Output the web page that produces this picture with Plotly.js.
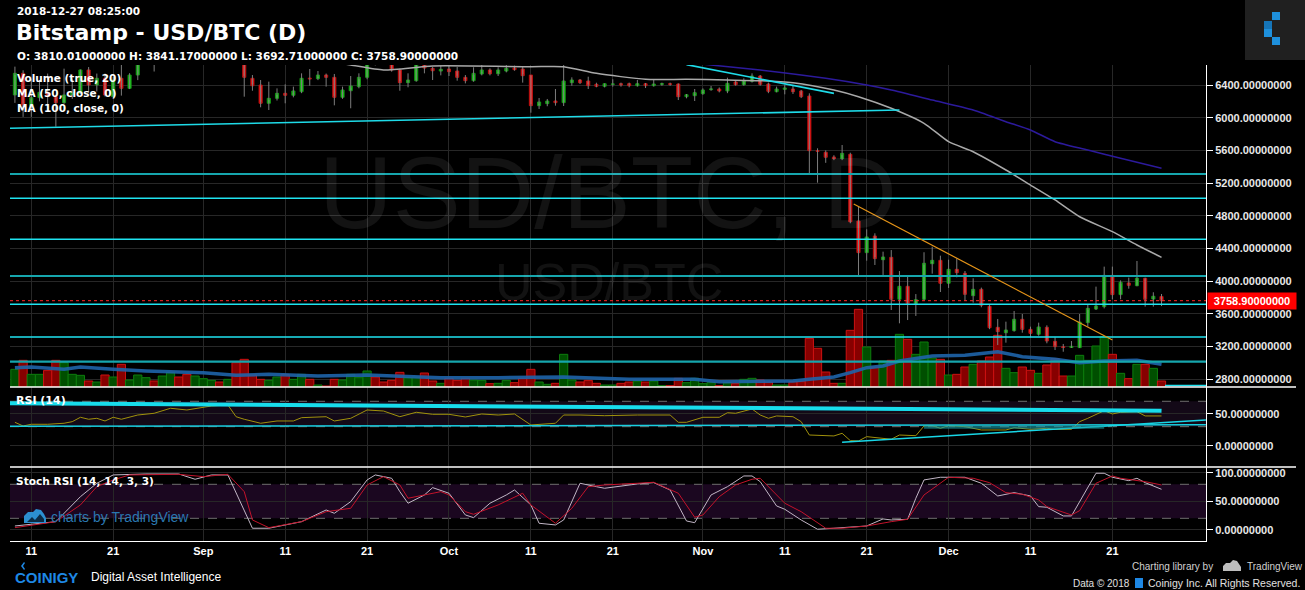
<!DOCTYPE html>
<html><head><meta charset="utf-8">
<script src="https://cdn.plot.ly/plotly-3.0.1.min.js"></script>
<style>html,body{margin:0;padding:0;background:#000;overflow:hidden}#chart{width:1305px;height:590px}</style>
</head><body><div id="chart"></div>
<script>
// ---------------- DATA (daily candles from 2018-08-09 to 2018-12-27) ----------------
const firstDay = '2018-08-09';
const openP = [
6278,6543,6140,6245,6310,6257,6184,6278,6298,6584,6400,6482,6257,6482,6359,6522,6690,6730,6700,6910,7080,7030,6980,
7010,7190,7280,7260,7370,6700,6482,6400,6176,6237,6298,6274,6318,6484,6478,6522,6494,6249,6330,6380,6494,6760,6710,6700,6584,6429,6453,6690,6604,6571,
6596,6571,6494,6453,6535,6584,6538,6571,6608,6596,6522,6147,6172,6204,6184,6429,6461,6449,6408,6384,6408,6416,6416,6392,6416,6392,6408,6416,6412,6257,6269,
6294,6343,6351,6327,6437,6404,6445,6510,6412,6318,6347,6351,6327,6265,5596,5576,5518,5498,5551,4735,4347,4551,4261,4290,3776,3935,3723,3776,4212,4253,
3972,4143,4094,3820,3898,3690,3433,3367,3392,3531,3408,3348,3433,3261,3196,3186,3184,3490,3657,3686,4069,3833,3976,3943,4033,3780,3810.01];
const highP = [
6625,6580,6470,6460,6540,6280,6600,6480,6590,6620,6540,6540,6500,6890,6545,6730,6790,6760,6930,7130,7140,7060,7070,
7240,7340,7340,7400,7400,6720,6522,6461,6441,6359,6408,6380,6543,6596,6571,6540,6535,6380,6510,6543,6780,6800,6780,6720,6600,6543,6700,6790,6620,6637,
6645,6620,6522,6617,6645,6604,6617,6645,6637,6625,6522,6241,6229,6351,6900,6494,6473,6502,6428,6420,6470,6429,6429,6461,6425,6461,6429,6429,6420,6290,6351,
6359,6388,6370,6490,6461,6482,6543,6522,6429,6380,6400,6392,6340,6298,5625,5600,5540,5665,5571,4910,4633,4584,4359,4379,4122,4073,3840,4352,4420,4310,
4261,4278,4122,4033,3919,3706,3535,3502,3633,3596,3441,3490,3457,3310,3229,3265,3596,3706,3931,4176,4176,4008,4041,4245,4040,3862,3841.17];
const lowP = [
6181,6010,6010,6200,6150,5889,6170,6230,6290,6310,6320,6260,6250,6270,6350,6460,6660,6565,6660,6880,6980,6800,6900,
7000,7150,7200,7250,6680,6257,6330,6127,6094,6210,6176,6249,6300,6391,6460,6380,6151,6230,6115,6360,6470,6640,6660,6563,6330,6372,6440,6543,6461,6518,
6510,6453,6420,6440,6518,6518,6510,6555,6575,6429,6061,6106,6140,6147,6143,6391,6412,6351,6372,6370,6380,6380,6372,6380,6363,6380,6390,6390,6216,6237,6204,
6280,6330,6310,6300,6392,6390,6430,6392,6300,6310,6286,6290,6240,5319,5204,5447,5480,5480,4707,4065,4249,4196,4074,3645,3482,3522,3572,3760,4090,3865,
3915,4045,3760,3735,3678,3410,3216,3245,3380,3367,3310,3330,3237,3155,3134,3180,3180,3441,3645,3665,3776,3776,3906,3935,3686,3686,3692.71];
const closeP = [
6543,6155,6245,6310,6260,6184,6278,6310,6584,6400,6482,6278,6461,6359,6522,6690,6730,6700,6910,7080,7030,6980,7010,
7190,7280,7260,7370,6700,6494,6391,6176,6237,6298,6274,6327,6482,6476,6522,6494,6249,6339,6388,6494,6760,6710,6700,6584,6429,6461,6690,6608,6575,6592,
6563,6494,6453,6543,6584,6538,6584,6604,6588,6514,6147,6192,6204,6184,6449,6461,6429,6392,6384,6416,6412,6400,6392,6416,6392,6412,6416,6408,6257,6281,6306,
6339,6351,6327,6420,6404,6453,6510,6408,6323,6351,6363,6318,6257,5596,5588,5515,5498,5563,4726,4347,4539,4274,4294,3776,3935,3727,3771,4217,4253,3972,
4143,4102,3837,3898,3702,3428,3380,3400,3531,3408,3359,3437,3265,3196,3186,3200,3498,3665,3694,4069,3833,3984,3947,4033,3776,3813,3758.90];
const volumeBTC = [
5300,8000,3800,3800,5000,8000,7300,3800,3500,1800,1500,3600,3000,6800,2100,3600,2800,1800,3300,4400,3000,3800,3300,
2500,2000,1500,2300,7300,8300,3600,2300,2000,3000,3800,2300,3800,2300,600,300,2300,2100,3800,2800,4800,3000,1500,2000,4400,2800,3000,4200,1800,1100,
2600,2000,2600,2100,2000,1000,1100,2000,1300,2600,5300,1500,800,1100,9800,2100,1500,2000,1100,600,600,1100,1500,1800,1500,1800,400,400,2600,1300,2600,
1000,1300,400,1300,1000,2300,2600,2100,1500,600,600,1600,1600,14600,11600,4500,1100,1100,17000,23300,12000,6000,7800,8000,15800,14300,9800,13500,8700,8300,
3600,3800,6000,6800,7800,9000,15500,5600,4300,6000,5000,4100,6600,8500,3300,3300,9500,8000,12300,15100,9800,4100,2500,6800,6800,5600,1800];

// Indicator lines
const volMaDates = ['2018-08-09','2018-08-11','2018-08-15','2018-08-17','2018-08-21','2018-08-25','2018-09-01','2018-09-05','2018-09-09','2018-09-15','2018-09-21','2018-09-30','2018-10-07','2018-10-15','2018-10-23','2018-10-31','2018-11-03','2018-11-08','2018-11-12','2018-11-14','2018-11-17','2018-11-19','2018-11-21','2018-11-23','2018-11-25','2018-11-29','2018-12-03','2018-12-07','2018-12-10','2018-12-14','2018-12-17','2018-12-20','2018-12-24','2018-12-27'];
const volMaVals = [5800,6000,5300,6000,5300,4800,4300,3500,3800,3300,3600,2800,2800,3000,2300,2300,1600,1600,1800,2300,3000,4300,5800,6300,7800,9300,9500,10600,9100,8300,7300,7800,8000,6800];

const ma50Dates = ['2018-09-12','2018-09-19','2018-09-23','2018-09-29','2018-10-11','2018-10-15','2018-10-19','2018-10-25','2018-10-30','2018-11-04','2018-11-08','2018-11-12','2018-11-17','2018-11-20','2018-11-24','2018-11-28','2018-12-01','2018-12-04','2018-12-08','2018-12-11','2018-12-14','2018-12-17','2018-12-21','2018-12-24','2018-12-27'];
const ma50Vals = [6760,6645,6584,6633,6624,6624,6543,6470,6470,6461,6453,6428,6339,6257,6115,5931,5706,5583,5359,5175,4992,4787,4604,4441,4290];

const ma100Dates = ['2018-10-26','2018-11-02','2018-11-08','2018-11-16','2018-11-21','2018-11-24','2018-11-29','2018-12-04','2018-12-08','2018-12-11','2018-12-14','2018-12-18','2018-12-22','2018-12-27'];
const ma100Vals = [6730,6645,6584,6482,6400,6339,6216,6094,5951,5849,5706,5604,5502,5380];

const rsiDates = ['2018-08-09','2018-08-10','2018-08-11','2018-08-13','2018-08-15','2018-08-16','2018-08-17','2018-08-18','2018-08-19','2018-08-20','2018-08-21','2018-08-22','2018-08-24','2018-08-26','2018-08-28','2018-08-30','2018-09-02','2018-09-04','2018-09-05','2018-09-06','2018-09-08','2018-09-10','2018-09-12','2018-09-13','2018-09-16','2018-09-17','2018-09-19','2018-09-21','2018-09-23','2018-09-25','2018-09-27','2018-09-29','2018-10-01','2018-10-03','2018-10-05','2018-10-07','2018-10-09','2018-10-11','2018-10-14','2018-10-15','2018-10-17','2018-10-20','2018-10-24','2018-10-28','2018-10-29','2018-10-30','2018-11-01','2018-11-03','2018-11-04','2018-11-05','2018-11-07','2018-11-08','2018-11-09','2018-11-10','2018-11-12','2018-11-13','2018-11-14','2018-11-17','2018-11-18','2018-11-19','2018-11-20','2018-11-21','2018-11-24','2018-11-25','2018-11-27','2018-11-28','2018-11-29','2018-11-30','2018-12-01','2018-12-03','2018-12-05','2018-12-08','2018-12-09','2018-12-11','2018-12-13','2018-12-14','2018-12-16','2018-12-17','2018-12-18','2018-12-20','2018-12-21','2018-12-22','2018-12-24','2018-12-25','2018-12-27'];
const rsiVals = [36.9,31.1,33.8,33.8,35.4,37.9,44.8,41.7,43.2,39.0,44.8,41.7,48.4,51.1,59.0,56.3,62.6,64.2,45.7,41.7,35.4,39.0,39.0,44.2,45.7,39.0,43.2,56.3,54.7,45.7,52.7,49.5,49.5,45.3,50.0,48.4,50.0,32.7,35.4,48.4,48.4,47.3,48.4,48.4,36.9,36.9,44.8,44.8,52.0,51.1,57.9,48.4,43.2,46.9,45.7,37.9,16.9,15.4,19.6,8.0,7.5,14.3,10.2,16.9,15.8,31.1,31.6,27.5,31.6,30.0,24.8,24.8,28.4,25.9,27.5,25.9,25.9,37.9,43.2,55.2,50.0,52.7,53.6,46.9,46.9];

const stochKDates = ['2018-08-09','2018-08-14','2018-08-17','2018-08-19','2018-08-21','2018-08-25','2018-08-29','2018-08-31','2018-09-02','2018-09-04','2018-09-07','2018-09-09','2018-09-13','2018-09-16','2018-09-17','2018-09-19','2018-09-21','2018-09-22','2018-09-24','2018-09-25','2018-09-26','2018-09-28','2018-09-29','2018-10-01','2018-10-03','2018-10-04','2018-10-06','2018-10-08','2018-10-09','2018-10-11','2018-10-12','2018-10-14','2018-10-15','2018-10-17','2018-10-19','2018-10-20','2018-10-24','2018-10-26','2018-10-28','2018-10-30','2018-10-31','2018-11-02','2018-11-04','2018-11-05','2018-11-06','2018-11-07','2018-11-08','2018-11-10','2018-11-11','2018-11-13','2018-11-15','2018-11-17','2018-11-21','2018-11-23','2018-11-24','2018-11-26','2018-11-27','2018-11-28','2018-11-30','2018-12-03','2018-12-05','2018-12-07','2018-12-09','2018-12-11','2018-12-12','2018-12-13','2018-12-15','2018-12-16','2018-12-19','2018-12-20','2018-12-21','2018-12-23','2018-12-24','2018-12-25','2018-12-27'];
const stochKVals = [6.5,14.1,58.2,81.8,96.5,98.2,98.2,88.9,96.5,96.5,2.5,2.5,14.1,34.7,28.9,49.4,87.7,96.5,90.6,67,46.6,61.2,74.1,64.2,25.9,21.2,46.6,61.2,70,43.6,11.3,8.3,17.1,81.8,75.8,73,80.6,82.9,70,15.3,12.3,61.2,75.8,84.7,94.7,94.7,84.7,41.8,36,17.1,0.7,2.5,6.5,18.9,17.1,18.3,55.4,87.7,92.4,92.4,81.8,59.4,65.3,59.4,40.6,39.5,24.2,24.2,99.5,99.5,92.4,86.4,90.6,82.9,71.2];

const stochDDates = ['2018-08-09','2018-08-14','2018-08-17','2018-08-19','2018-08-21','2018-08-23','2018-08-29','2018-09-01','2018-09-04','2018-09-06','2018-09-07','2018-09-09','2018-09-13','2018-09-16','2018-09-19','2018-09-21','2018-09-23','2018-09-25','2018-09-26','2018-09-30','2018-10-01','2018-10-03','2018-10-04','2018-10-07','2018-10-10','2018-10-11','2018-10-14','2018-10-16','2018-10-18','2018-10-20','2018-10-24','2018-10-26','2018-10-29','2018-10-31','2018-11-01','2018-11-03','2018-11-05','2018-11-07','2018-11-08','2018-11-11','2018-11-13','2018-11-16','2018-11-18','2018-11-21','2018-11-24','2018-11-26','2018-11-28','2018-12-01','2018-12-04','2018-12-06','2018-12-08','2018-12-10','2018-12-12','2018-12-13','2018-12-16','2018-12-17','2018-12-19','2018-12-21','2018-12-22','2018-12-24','2018-12-25','2018-12-27'];
const stochDVals = [3.5,14.1,43.6,75.8,87.7,96.5,97.6,93.5,97.6,67,17.1,3.5,14.1,31.7,37.7,78.8,93.5,78.8,55.4,67,61.2,31.7,27.1,43.6,64.2,43.6,11.3,37.7,75.8,78.8,81.8,83.6,64.2,21.9,25.9,58.2,78.8,88.9,90.6,46.6,31.7,2.5,2.5,6.5,14.1,18.3,61.2,92.4,90.6,82.9,65.3,62.4,52.4,40.6,25.9,33.5,81.8,94.7,90.6,86.4,84.7,78.8];

// Drawings (user trendlines / levels)
const levelPrices = [5310, 5012, 4511, 4061, 3715, 3314, 3012];
const levelKinds  = ['teal','cyan','cyan','teal','cyan','cyan','teal'];
const longTrend = {d:['2018-08-08 09:00','2018-11-25'], p:[5870, 6094]};
const shortTrend = {d:['2018-10-30','2018-11-17'], p:[6650, 6298]};
const orangeTrend = {d:['2018-11-19 10:00','2018-12-21'], p:[4943, 3277]};
const rsiTop = {d:['2018-08-08 09:00','2018-12-27'], v:[66.9, 55.2]};
const rsiFlat = {d:['2018-08-08 09:00','2019-01-01 10:00'], v:[30.6, 33.0]};
const rsiRise = {d:['2018-11-18','2019-01-01 10:00'], v:[5.4, 40.6]};
const rsiSeg = {d:['2018-11-28','2018-12-20'], v:[29.2, 29.2]};
const lastPrice = 3758.90;

const xTickVals = ['2018-08-11','2018-08-21','2018-09-01','2018-09-11','2018-09-21','2018-10-01','2018-10-11','2018-10-21','2018-11-01','2018-11-11','2018-11-21','2018-12-01','2018-12-11','2018-12-21'];
const xTickText = ['11','21','Sep','11','21','Oct','11','21','Nov','11','21','Dec','11','21'];
const priceTicks = [2800,3200,3600,4000,4400,4800,5200,5600,6000,6400];

// ---------------- BUILD ----------------
const N = openP.length;
const days = [];
{ const d0 = new Date(firstDay + 'T00:00:00Z');
  for (let i = 0; i < N; i++) { const d = new Date(d0.getTime() + i*86400000); days.push(d.toISOString().slice(0,10)); } }

const W = 1305, H = 590, ML = 10, MR = 99, MT = 65, MB = 49;
const PW = W - ML - MR, PH = H - MT - MB;
const px = x => (x - ML) / PW;
const py = y => (H - MB - y) / PH;

const up = days.map((_, i) => closeP[i] >= openP[i]);
const bodyHi = openP.map((o, i) => Math.max(o, closeP[i]));
const bodyLo = openP.map((o, i) => Math.min(o, closeP[i]));

const wickX = [], wickY = [];
days.forEach((d, i) => { wickX.push(d, d, null); wickY.push(lowP[i], highP[i], null); });

const traces = [
  { type:'bar', x: days, y: volumeBTC, xaxis:'x', yaxis:'y',
    marker:{ color: up.map(u => u ? '#004f00' : '#870000'), line:{ color: up.map(u => u ? '#0d7d0d' : '#cc1111'), width:1 } },
    hoverinfo:'skip' },
  { type:'scatter', mode:'lines', x: volMaDates, y: volMaVals, xaxis:'x', yaxis:'y',
    line:{ color:'rgba(30,100,170,0.9)', width:3.5 }, hoverinfo:'skip' },
  { type:'scatter', mode:'lines', x: wickX, y: wickY, xaxis:'x', yaxis:'y2', connectgaps:false,
    line:{ color:'#7d7d7d', width:1 }, hoverinfo:'skip' },
  { type:'candlestick', x: days, open: openP, close: closeP, high: bodyHi, low: bodyLo, xaxis:'x', yaxis:'y2',
    increasing:{ fillcolor:'#1ed21e', line:{ color:'#129412', width:1 } },
    decreasing:{ fillcolor:'#ff1c1c', line:{ color:'#b80f0f', width:1 } },
    whiskerwidth:0, hoverinfo:'skip' },
  { type:'scatter', mode:'lines', x: ma50Dates, y: ma50Vals, xaxis:'x', yaxis:'y2',
    line:{ color:'#a9a9a9', width:1.5, shape:'spline', smoothing:0.6 }, hoverinfo:'skip' },
  { type:'scatter', mode:'lines', x: ma100Dates, y: ma100Vals, xaxis:'x', yaxis:'y2',
    line:{ color:'#2c1a9c', width:1.5, shape:'spline', smoothing:0.6 }, hoverinfo:'skip' },
  { type:'scatter', mode:'lines', x: rsiDates, y: rsiVals, xaxis:'x', yaxis:'y3',
    line:{ color:'#a0910c', width:1 }, hoverinfo:'skip' },
  { type:'scatter', mode:'lines', x: stochKDates, y: stochKVals, xaxis:'x', yaxis:'y4',
    line:{ color:'#c2b6c6', width:1 }, hoverinfo:'skip' },
  { type:'scatter', mode:'lines', x: stochDDates, y: stochDVals, xaxis:'x', yaxis:'y4',
    line:{ color:'#c3132b', width:1 }, hoverinfo:'skip' }
];

const tickFont = { family:'Liberation Sans, Arial', size:11, color:'#e8e8e8', weight:'bold' };
const yCommon = { side:'right', anchor:'x', showline:true, linecolor:'#ffffff', linewidth:1, ticks:'outside', ticklen:6,
  tickcolor:'#ffffff', tickfont: tickFont, tickformat:'.8f', showgrid:true, gridcolor:'#272727', zeroline:false, fixedrange:true };

const shapes = [];
// indicator bands
shapes.push({ type:'rect', xref:'paper', yref:'y3', x0:0, x1:1, y0:30, y1:70, fillcolor:'#130917', line:{width:0}, layer:'below' });
shapes.push({ type:'rect', xref:'paper', yref:'y4', x0:0, x1:1, y0:20, y1:80, fillcolor:'#1b0720', line:{width:0}, layer:'below' });
[70,30].forEach(v => shapes.push({ type:'line', xref:'paper', yref:'y3', x0:0, x1:1, y0:v, y1:v, line:{ color:'#6e6e6e', width:1, dash:'dash' }, layer:'below' }));
[80,20].forEach(v => shapes.push({ type:'line', xref:'paper', yref:'y4', x0:0, x1:1, y0:v, y1:v, line:{ color:'#6e6e6e', width:1, dash:'dash' }, layer:'below' }));
// horizontal levels
levelPrices.forEach((p, i) => {
  const teal = levelKinds[i] === 'teal';
  shapes.push({ type:'line', xref:'paper', yref:'y2', x0:0, x1:1, y0:p, y1:p,
    line:{ color: teal ? '#16a6ad' : '#1fe3f0', width: teal ? 2.2 : 1.5 }, layer:'above' });
});
// trendlines
shapes.push({ type:'line', xref:'x', yref:'y2', x0:longTrend.d[0], x1:longTrend.d[1], y0:longTrend.p[0], y1:longTrend.p[1], line:{ color:'#1edbe8', width:1.6 }, layer:'above' });
shapes.push({ type:'line', xref:'x', yref:'y2', x0:shortTrend.d[0], x1:shortTrend.d[1], y0:shortTrend.p[0], y1:shortTrend.p[1], line:{ color:'#1edbe8', width:1.6 }, layer:'above' });
shapes.push({ type:'line', xref:'x', yref:'y2', x0:orangeTrend.d[0], x1:orangeTrend.d[1], y0:orangeTrend.p[0], y1:orangeTrend.p[1], line:{ color:'#e59418', width:1.2 }, layer:'above' });
// last price dotted
shapes.push({ type:'line', xref:'paper', yref:'y2', x0:0, x1:1, y0:lastPrice, y1:lastPrice, line:{ color:'#ff2a2a', width:1, dash:'dot' }, layer:'above' });
// rsi drawings
shapes.push({ type:'line', xref:'x', yref:'y3', x0:rsiTop.d[0], x1:rsiTop.d[1], y0:rsiTop.v[0], y1:rsiTop.v[1], line:{ color:'#18dcec', width:4 }, layer:'above' });
shapes.push({ type:'line', xref:'x', yref:'y3', x0:rsiFlat.d[0], x1:rsiFlat.d[1], y0:rsiFlat.v[0], y1:rsiFlat.v[1], line:{ color:'#18cfe0', width:1.5 }, layer:'above' });
shapes.push({ type:'line', xref:'x', yref:'y3', x0:rsiRise.d[0], x1:rsiRise.d[1], y0:rsiRise.v[0], y1:rsiRise.v[1], line:{ color:'#18d6e6', width:1.5 }, layer:'above' });
shapes.push({ type:'line', xref:'x', yref:'y3', x0:rsiSeg.d[0], x1:rsiSeg.d[1], y0:rsiSeg.v[0], y1:rsiSeg.v[1], line:{ color:'rgba(22,160,170,0.6)', width:3 }, layer:'above' });
// panel separators and bottom cyan
shapes.push({ type:'line', xref:'paper', yref:'paper', x0:px(1165), x1:1, y0:py(385.5), y1:py(385.5), line:{ color:'#1fe3f0', width:1.5 } });
[387, 467].forEach(y => shapes.push({ type:'line', xref:'paper', yref:'paper', x0:0, x1:px(1296), y0:py(y), y1:py(y), line:{ color:'#ffffff', width:1.5 } }));
// top-right logo box
shapes.push({ type:'rect', xref:'paper', yref:'paper', x0:px(1245), x1:px(1305), y0:py(0), y1:py(60), fillcolor:'#202020', line:{width:0} });
[[1272,12,1280,20,'#1e90dc'],[1264,21,1272,29,'#1675b8'],[1264,29,1272,37,'#1e90dc'],[1272,37,1280,45,'#1e90dc']].forEach(s =>
  shapes.push({ type:'rect', xref:'paper', yref:'paper', x0:px(s[0]), x1:px(s[2]), y0:py(s[1]), y1:py(s[3]), fillcolor:s[4], line:{width:0} }));
// TradingView cloud logo (stoch panel)
function pathPx(pts){ return 'M' + pts.map(p => px(p[0]) + ',' + py(p[1])).join(' L') + ' Z'; }
shapes.push({ type:'path', xref:'paper', yref:'paper', path: pathPx([[24,523],[24,516],[28,512],[33,512],[36,509],[41,510],[44,514],[46,518],[46,523]]), fillcolor:'#2c8fd0', line:{width:0} });
shapes.push({ type:'path', xref:'paper', yref:'paper', path: pathPx([[27,522],[32,517],[35,520],[40,514],[44,519],[44,522]]), fillcolor:'#0b2b44', line:{width:0} });
// small grey TV logo bottom right
shapes.push({ type:'path', xref:'paper', yref:'paper', path: pathPx([[1223,571],[1223,566],[1226,563],[1230,563],[1233,560],[1237,561],[1239,564],[1241,567],[1241,571]]), fillcolor:'#bdbdbd', line:{width:0} });
// coinigy icons
shapes.push({ type:'path', xref:'paper', yref:'paper', path: pathPx([[24,562],[21,566],[24,570],[25,569],[23,566],[25,563]]), fillcolor:'#1e88e5', line:{width:0} });
shapes.push({ type:'rect', xref:'paper', yref:'paper', x0:px(1135), x1:px(1143), y0:py(578), y1:py(588), fillcolor:'#1e88e5', line:{width:0} });

const hdr = (text, x, y, size, extra) => Object.assign({ xref:'paper', yref:'paper', x:px(x), y:py(y), xanchor:'left', yanchor:'middle', showarrow:false, text,
  font:{ family:'DejaVu Sans', size, color:'#ffffff', weight:'bold' } }, extra || {});
const foot = (text, x, y, size, color, anchor) => ({ xref:'paper', yref:'paper', x:px(x), y:py(y), xanchor:anchor || 'left', yanchor:'middle', showarrow:false, text,
  font:{ family:'Liberation Sans, Arial', size, color } });

const annotations = [
  // watermarks
  { xref:'paper', yref:'paper', x:px(608), y:py(193), xanchor:'center', yanchor:'middle', showarrow:false, text:'USD/BTC, D',
    font:{ family:'Liberation Sans', size:102, color:'rgba(255,255,255,0.075)' } },
  { xref:'paper', yref:'paper', x:px(609), y:py(282), xanchor:'center', yanchor:'middle', showarrow:false, text:'USD/BTC',
    font:{ family:'Liberation Sans', size:52, color:'rgba(255,255,255,0.07)' } },
  hdr('2018-12-27 08:25:00', 15, 11, 10.5),
  hdr('Bitstamp - USD/BTC (D)', 14, 32, 22),
  hdr('O: 3810.01000000 H: 3841.17000000 L: 3692.71000000 C: 3758.90000000', 15, 56, 10.5),
  hdr('Volume (true, 20)', 15, 78, 10.5),
  hdr('MA (50, close, 0)', 15, 93, 10.5),
  hdr('MA (100, close, 0)', 15, 108, 10.5),
  hdr('RSI (14)', 14, 401, 11),
  hdr('Stoch RSI (14, 14, 3, 3)', 14, 481, 10.6),
  { xref:'paper', yref:'paper', x:px(49), y:py(517), xanchor:'left', yanchor:'middle', showarrow:false, text:'charts by TradingView',
    font:{ family:'Liberation Sans', size:14, color:'#2a77b0' } },
  // last price label
  { xref:'paper', yref:'y2', x:px(1207), y:lastPrice, xanchor:'left', yanchor:'middle', showarrow:false, text:'3758.90000000',
    bgcolor:'#ff0000', width:86, height:14, borderpad:1, align:'center',
    font:{ family:'Liberation Sans, Arial', size:11, color:'#ffffff', weight:'bold' } },
  // footer
  { xref:'paper', yref:'paper', x:px(13), y:py(577), xanchor:'left', yanchor:'middle', showarrow:false, text:'COINIGY',
    font:{ family:'Liberation Sans, Arial', size:15, color:'#1e88e5', weight:'bold' } },
  foot('Digital Asset Intelligence', 89, 577, 12, '#ffffff'),
  foot('Charting library by', 1215, 566, 10, '#d0d0d0', 'right'),
  foot('TradingView', 1245, 566, 10, '#d0d0d0'),
  foot('Data © 2018', 1132, 583, 10, '#e0e0e0', 'right'),
  foot('Coinigy Inc. All Rights Reserved.', 1146, 583, 10.5, '#e0e0e0', 'left')
];

const layout = {
  width: W, height: H, margin:{ l:ML, r:MR, t:MT, b:MB, pad:0 },
  paper_bgcolor:'#000000', plot_bgcolor:'#000000', showlegend:false,
  bargap:0, boxgap:0.46, hovermode:false, dragmode:false,
  xaxis:{ type:'date', anchor:'y4', range:['2018-08-08 09:36','2019-01-01 10:19'], rangeslider:{visible:false},
    tickmode:'array', tickvals:xTickVals, ticktext:xTickText, ticks:'', showgrid:true, gridcolor:'#272727',
    showline:true, linecolor:'#ffffff', linewidth:1, zeroline:false, fixedrange:true,
    tickfont:{ family:'Liberation Sans, Arial', size:11, color:'#ffffff', weight:'bold' } },
  yaxis:{ domain:[py(387), 1], range:[0, 96600], visible:false, fixedrange:true, showgrid:false, zeroline:false },
  yaxis2: Object.assign({}, yCommon, { overlaying:'y', range:[2702, 6645], tickmode:'array', tickvals:priceTicks }),
  yaxis3: Object.assign({}, yCommon, { domain:[py(467), py(387)], range:[-33.5, 92.5], tickmode:'array', tickvals:[0,50] }),
  yaxis4: Object.assign({}, yCommon, { domain:[0, py(467)], range:[-20, 110.5], tickmode:'array', tickvals:[0,50,100] }),
  shapes, annotations
};

Plotly.newPlot('chart', traces, layout, { staticPlot:true, displayModeBar:false });
</script>
</body></html>
